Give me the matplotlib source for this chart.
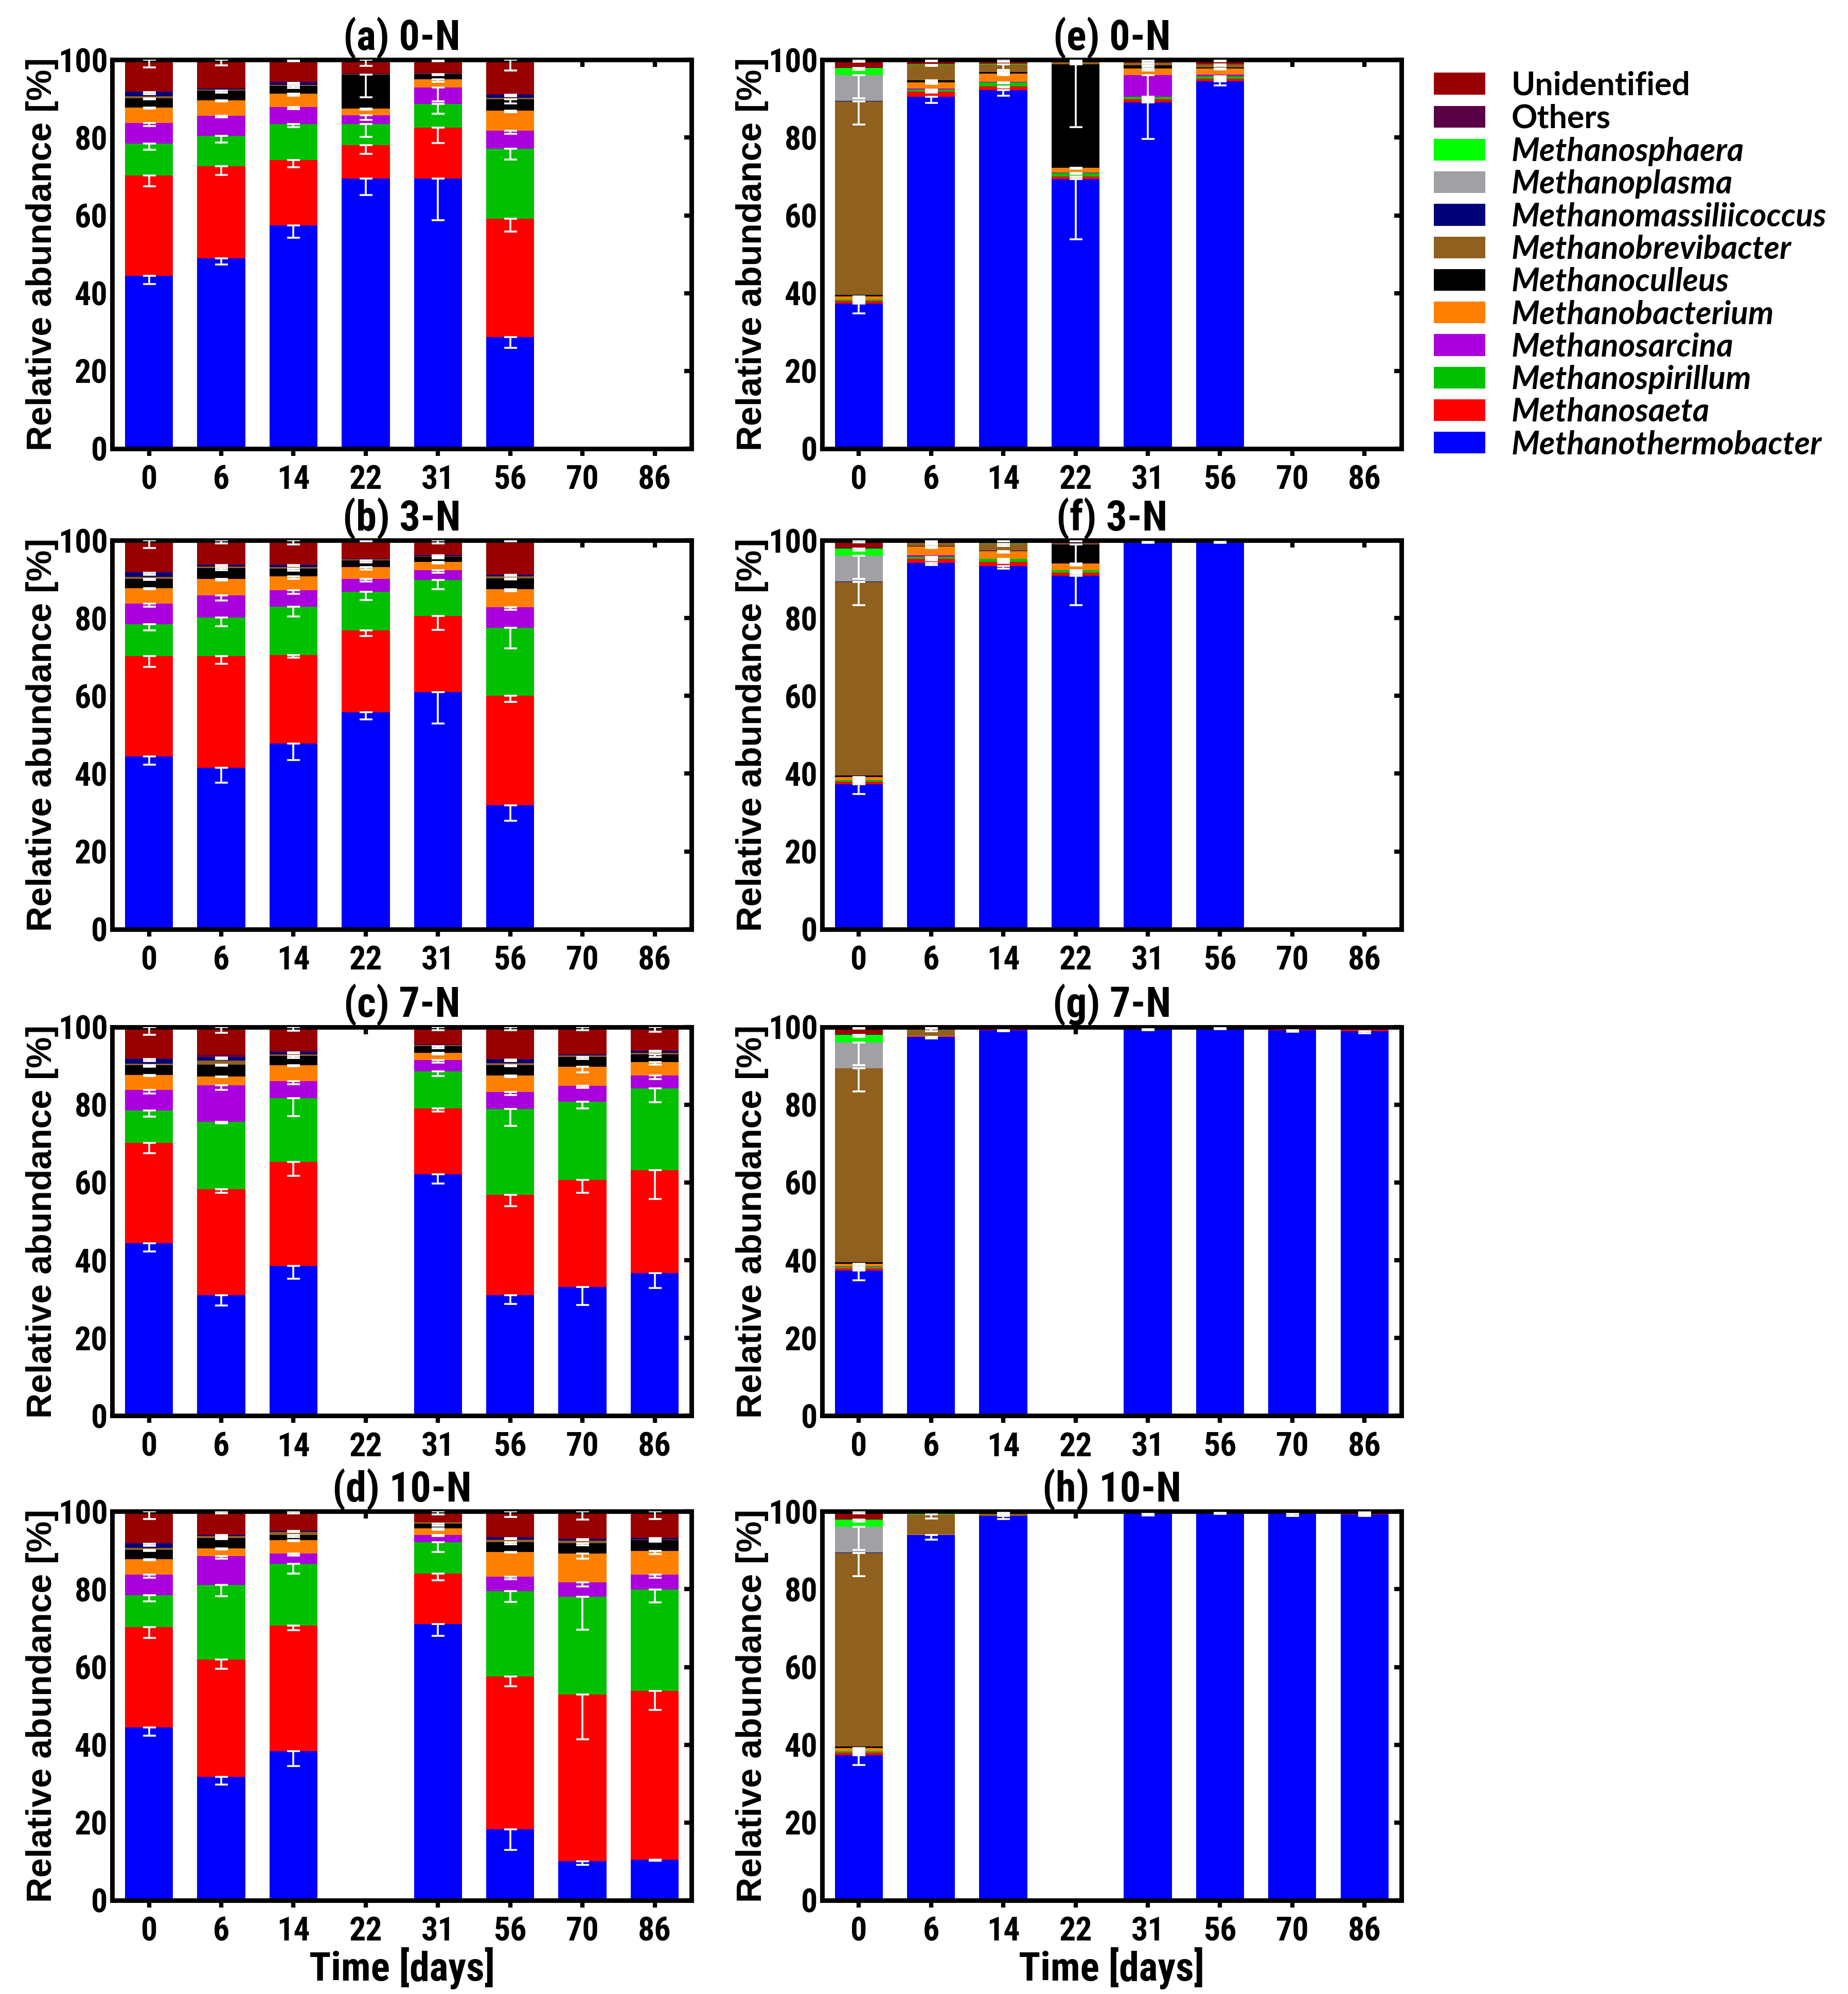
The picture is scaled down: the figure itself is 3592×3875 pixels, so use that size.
import matplotlib
matplotlib.use("Agg")
import matplotlib.pyplot as plt
from matplotlib import font_manager as fm
from matplotlib.patches import Patch

days = ['0', '6', '14', '22', '31', '56', '70', '86']

# bottom -> top stacking order
genera = ['Methanothermobacter', 'Methanosaeta', 'Methanospirillum', 'Methanosarcina',
          'Methanobacterium', 'Methanoculleus', 'Methanobrevibacter', 'Methanomassiliicoccus',
          'Methanoplasma', 'Methanosphaera', 'Others', 'Unidentified']
colors = ['#0000FF', '#FF0000', '#00C000', '#AA00DD', '#FF8000', '#000000',
          '#90601E', '#000078', '#A0A0A5', '#00FF00', '#5A0046', '#990000']

# inoculum (day 0), left and right column
inoc_left = [44.4, 25.8, 8.3, 5.3, 3.9, 2.4, 0.5, 1.1, 0, 0, 0.2, 8.1]
inoc_left_err = [2.1, 2.7, 1.6, 0.9, 0.3, 0.3, 0, 0.5, 0, 0, 0, 2.0]
inoc_right = [37.3, 0.6, 0.4, 0.1, 0.7, 0.4, 49.8, 0.1, 6.6, 1.9, 0.2, 1.9]
inoc_right_err = [2.5, 0.3, 0.2, 0, 0.3, 0, 5.9, 0, 5.9, 0.5, 0, 0.5]

vals_a = [inoc_left,
          [49.0, 23.7, 7.7, 5.2, 4.0, 2.5, 0.3, 0.2, 0, 0, 0, 7.4],
          [57.4, 16.8, 9.3, 4.4, 3.4, 2.0, 0.3, 0.5, 0, 0, 0.4, 5.5],
          [69.4, 8.7, 5.4, 2.3, 1.7, 8.7, 0.1, 0.1, 0, 0, 0.1, 3.5],
          [69.4, 13.2, 6.0, 4.3, 2.1, 1.3, 0.1, 0.2, 0, 0, 0, 3.4],
          [28.7, 30.4, 18.0, 4.7, 5.1, 2.9, 0.4, 0.9, 0, 0, 0.1, 8.8],
          None, None]
err_a = [inoc_left_err,
         [1.7, 2.3, 1.7, 0.4, 0.3, 0.5, 0, 0, 0, 0, 0, 1.4],
         [3.2, 1.8, 0.8, 0.6, 0.5, 0.5, 0, 0.3, 0, 0, 0, 0.3],
         [4.2, 2.3, 3.3, 1.2, 0.3, 5.8, 0, 0, 0, 0, 0, 1.6],
         [10.6, 4.0, 2.4, 3.6, 0.6, 0.2, 0, 0, 0, 0, 0, 0.3],
         [2.8, 3.3, 2.7, 0.8, 0.4, 1.0, 0, 0.5, 0, 0, 0, 2.7],
         None, None]

vals_b = [inoc_left,
          [41.5, 28.8, 9.9, 5.6, 4.3, 2.8, 0.4, 0.4, 0, 0, 0.1, 6.2],
          [47.7, 22.8, 12.4, 4.3, 3.5, 2.1, 0.4, 0.5, 0, 0, 0.1, 6.2],
          [55.8, 21.0, 10.0, 3.3, 3.0, 1.7, 0.3, 0.1, 0, 0, 0, 4.8],
          [61.0, 19.6, 9.2, 2.6, 2.1, 1.3, 0.1, 0.3, 0, 0, 0, 3.8],
          [31.9, 28.1, 17.5, 5.3, 4.6, 2.8, 0.6, 0.4, 0, 0, 0, 8.8],
          None, None]
err_b = [inoc_left_err,
         [3.8, 2.1, 2.3, 1.3, 0.4, 0.6, 0, 0.3, 0, 0, 0, 0.8],
         [4.2, 0.6, 2.5, 1.0, 0.6, 0.6, 0, 0.3, 0, 0, 0, 1.1],
         [1.9, 1.4, 2.2, 0.7, 0.6, 0.5, 0, 0, 0, 0, 0, 0.3],
         [8.1, 3.6, 2.3, 0.7, 0.5, 0.4, 0, 0.2, 0, 0, 0, 0.8],
         [4.0, 1.5, 5.3, 0.7, 0.5, 0.2, 0, 0.3, 0, 0, 0, 0.2],
         None, None]

vals_c = [inoc_left,
          [31.0, 27.2, 17.4, 9.4, 2.3, 3.0, 1.0, 0.9, 0, 0, 0.6, 7.2],
          [38.6, 26.7, 16.4, 4.3, 4.2, 2.3, 0.4, 0.6, 0, 0, 0.3, 6.2],
          None,
          [62.1, 17.0, 9.5, 2.9, 1.8, 1.7, 0.3, 0.2, 0, 0, 0, 4.5],
          [31.0, 25.8, 22.1, 4.4, 4.2, 2.7, 0.5, 0.9, 0, 0, 0.2, 8.2],
          [33.1, 27.6, 20.0, 4.1, 5.0, 2.5, 0.4, 0.3, 0, 0, 0, 7.0],
          [36.7, 26.5, 21.0, 3.3, 3.5, 2.0, 0.3, 0.6, 0, 0, 0, 6.1]]
err_c = [inoc_left_err,
         [2.7, 0.9, 0.4, 1.2, 0.2, 0.3, 0, 0.4, 0, 0, 0, 1.5],
         [3.4, 3.6, 4.6, 0.8, 0.3, 0.5, 0, 0.3, 0, 0, 0, 1.0],
         None,
         [2.4, 0.8, 1.2, 0.7, 0.4, 0.5, 0, 0, 0, 0, 0, 0.8],
         [2.2, 2.9, 4.4, 0.8, 0.4, 0.3, 0, 0.4, 0, 0, 0, 0.8],
         [4.6, 3.3, 1.7, 0.4, 1.5, 0.6, 0, 0, 0, 0, 0, 0.8],
         [3.8, 7.5, 3.6, 0.9, 0.7, 0.7, 0, 0.3, 0, 0, 0, 1.2]]

vals_d = [inoc_left,
          [31.8, 30.1, 19.2, 7.4, 2.0, 2.7, 0.5, 0.2, 0, 0, 0.1, 6.0],
          [38.3, 32.3, 15.9, 2.7, 3.4, 1.4, 0.7, 0.3, 0, 0, 0, 5.0],
          None,
          [71.0, 13.0, 8.1, 1.9, 1.7, 1.1, 0.4, 0.1, 0, 0, 0, 2.7],
          [18.3, 39.3, 21.9, 3.7, 6.4, 2.5, 0.6, 0.5, 0, 0, 0.3, 6.5],
          [10.1, 42.8, 25.2, 3.7, 7.4, 2.6, 0.7, 0.4, 0, 0, 0.1, 7.0],
          [10.4, 43.5, 26.0, 3.8, 6.1, 2.8, 0.2, 0.3, 0, 0, 0, 6.9]]
err_d = [inoc_left_err,
         [2.1, 2.4, 2.9, 0.6, 0.3, 0.3, 0, 0.3, 0, 0, 0, 0.5],
         [3.8, 1.2, 2.5, 0.5, 0.3, 0.6, 0, 0.2, 0, 0, 0, 0.5],
         None,
         [3.0, 1.7, 2.5, 0.3, 0.4, 0.5, 0, 0, 0, 0, 0, 0.8],
         [5.3, 2.6, 2.7, 0.7, 0.2, 0.5, 0, 0.3, 0, 0, 0, 1.4],
         [1.0, 11.5, 8.5, 1.1, 1.4, 0.5, 0, 0.3, 0, 0, 0, 2.1],
         [0.2, 5.0, 3.3, 0.7, 0.8, 0.4, 0, 0.2, 0, 0, 0, 1.9]]

vals_e = [inoc_right,
          [90.5, 1.3, 0.5, 0.3, 1.6, 0.6, 3.9, 0, 0, 0.2, 0, 1.1],
          [92.2, 1.0, 1.0, 0.1, 2.1, 0.5, 2.0, 0, 0, 0.1, 0, 1.0],
          [69.3, 0.7, 0.9, 0.1, 1.3, 26.6, 0.5, 0, 0, 0, 0, 0.6],
          [89.0, 0.8, 0.7, 5.6, 1.7, 0.8, 0.7, 0, 0, 0, 0, 0.7],
          [94.5, 0.7, 0.6, 0.4, 1.6, 0.2, 0.9, 0, 0, 0, 0, 1.1],
          None, None]
err_e = [inoc_right_err,
         [1.6, 0.2, 0.3, 0, 0.4, 0.3, 0.3, 0, 0, 0, 0, 0.3],
         [1.4, 0.3, 0.3, 0, 0.4, 0.3, 1.5, 0, 0, 0, 0, 0.5],
         [15.5, 0.2, 0.3, 0, 0.3, 16.2, 0.2, 0, 0, 0, 0, 0.2],
         [9.3, 0.3, 0.3, 5.6, 0.5, 0.3, 0.2, 0, 0, 0, 0, 0.2],
         [1.1, 0.3, 0.3, 0, 0.3, 0, 0.4, 0, 0, 0, 0, 0.3],
         None, None]

vals_f = [inoc_right,
          [94.2, 1.0, 0.6, 0.4, 2.2, 0.2, 0.7, 0, 0, 0, 0, 0.7],
          [93.4, 1.1, 0.7, 0.1, 1.9, 0.2, 1.7, 0, 0, 0.1, 0, 0.8],
          [90.9, 0.8, 0.6, 0, 1.7, 4.9, 0.3, 0, 0, 0, 0.3, 0.5],
          [99.6, 0.1, 0, 0, 0.1, 0, 0.1, 0, 0, 0, 0, 0.1],
          [99.6, 0.1, 0, 0, 0.1, 0, 0.1, 0, 0, 0, 0, 0.1],
          None, None]
err_f = [inoc_right_err,
         [0.5, 0.3, 0.3, 0, 0.4, 0, 0.3, 0, 0, 0, 0, 0.2],
         [0.6, 0.3, 0.3, 0, 0.4, 0, 0.5, 0, 0, 0, 0, 0.3],
         [7.6, 0.3, 0.2, 0, 0.3, 5.4, 0, 0, 0, 0, 0, 0.2],
         [0.3, 0, 0, 0, 0, 0, 0, 0, 0, 0, 0, 0],
         [0.3, 0, 0, 0, 0, 0, 0, 0, 0, 0, 0, 0],
         None, None]

vals_g = [inoc_right,
          [97.5, 0.1, 0, 0, 0.1, 0, 1.8, 0, 0, 0, 0, 0.5],
          [99.2, 0.1, 0, 0, 0, 0, 0.5, 0, 0, 0, 0, 0.2],
          None,
          [99.4, 0.1, 0, 0, 0, 0, 0.4, 0, 0, 0, 0, 0.1],
          [99.7, 0, 0, 0, 0, 0, 0.2, 0, 0, 0, 0, 0.1],
          [99.2, 0.3, 0, 0, 0, 0, 0.2, 0, 0, 0, 0, 0.3],
          [98.9, 0.4, 0, 0, 0, 0, 0.4, 0, 0, 0, 0, 0.3]]
err_g = [inoc_right_err,
         [0.5, 0, 0, 0, 0, 0, 0.6, 0, 0, 0, 0, 0.2],
         [0.3, 0, 0, 0, 0, 0, 0, 0, 0, 0, 0, 0],
         None,
         [0.3, 0, 0, 0, 0, 0, 0, 0, 0, 0, 0, 0],
         [0.3, 0, 0, 0, 0, 0, 0, 0, 0, 0, 0, 0],
         [0.5, 0, 0, 0, 0, 0, 0, 0, 0, 0, 0, 0],
         [0.6, 0, 0, 0, 0, 0, 0, 0, 0, 0, 0, 0]]

vals_h = [inoc_right,
          [93.9, 0.1, 0, 0, 0.1, 0, 5.2, 0, 0, 0.2, 0, 0.5],
          [98.8, 0, 0, 0, 0, 0, 0.9, 0, 0, 0, 0, 0.3],
          None,
          [99.4, 0.2, 0, 0, 0, 0, 0.1, 0, 0, 0, 0, 0.3],
          [99.7, 0.1, 0, 0, 0, 0, 0, 0, 0, 0, 0, 0.2],
          [99.4, 0.2, 0.2, 0, 0, 0, 0, 0, 0, 0, 0, 0.2],
          [99.3, 0.5, 0, 0, 0, 0, 0, 0, 0, 0, 0, 0.2]]
err_h = [inoc_right_err,
         [1.2, 0, 0, 0, 0, 0, 1.1, 0, 0, 0, 0, 0],
         [0.8, 0, 0, 0, 0, 0, 0.5, 0, 0, 0, 0, 0],
         None,
         [0.4, 0, 0, 0, 0, 0, 0, 0, 0, 0, 0, 0],
         [0.3, 0, 0, 0, 0, 0, 0, 0, 0, 0, 0, 0],
         [0.6, 0, 0, 0, 0, 0, 0, 0, 0, 0, 0, 0],
         [0.5, 0.3, 0, 0, 0, 0, 0, 0, 0, 0, 0, 0]]

panels = [('(a) 0-N', vals_a, err_a), ('(b) 3-N', vals_b, err_b),
          ('(c) 7-N', vals_c, err_c), ('(d) 10-N', vals_d, err_d),
          ('(e) 0-N', vals_e, err_e), ('(f) 3-N', vals_f, err_f),
          ('(g) 7-N', vals_g, err_g), ('(h) 10-N', vals_h, err_h)]


# pick a narrow bold face for ticks / titles (Arial Narrow look-alike)
def narrow_font():
    entries = fm.fontManager.ttflist
    names = {f.name for f in entries}
    for name in ['Liberation Sans Narrow', 'Arial Narrow', 'Roboto Condensed',
                 'Open Sans Condensed', 'Noto Sans Condensed', 'DejaVu Sans Condensed']:
        if name in names:
            return {'family': name, 'stretch': 'normal'}
    for name in ['Noto Sans', 'Open Sans', 'Roboto', 'DejaVu Sans']:
        for f in entries:
            if f.name == name and 'condensed' in str(f.stretch):
                return {'family': name, 'stretch': 'condensed'}
    return {'family': 'DejaVu Sans', 'stretch': 'normal'}


NARROW = narrow_font()

col_left = [0.0607, 0.4448]
col_width = 0.3135
row_bottom = [0.775, 0.534, 0.290, 0.047]
row_height = 0.195

fig = plt.figure(figsize=(17.96, 19.375), dpi=200)

for n, (title, vals, errs) in enumerate(panels):
    col, row = divmod(n, 4)
    ax = fig.add_axes([col_left[col], row_bottom[row], col_width, row_height])
    x = list(range(len(days)))
    bottoms = [0.0] * len(days)
    tops = []
    for k in range(len(genera)):
        h = [r[k] if r is not None else 0 for r in vals]
        ax.bar(x, h, bottom=bottoms, width=0.665, color=colors[k], linewidth=0, zorder=2)
        tops.append([b + v for b, v in zip(bottoms, h)])
        bottoms = tops[-1]
    # white error bars hanging from the top of each segment
    for i in x:
        if vals[i] is None:
            continue
        for k in range(len(genera)):
            e = errs[i][k]
            if e > 0 and vals[i][k] > 0:
                ax.errorbar(i, tops[k][i], yerr=[[e], [0]], fmt='none', ecolor='white',
                            elinewidth=1.3, capsize=4.5, capthick=1.3, zorder=3)

    ax.set_xlim(-0.51, 7.51)
    ax.set_ylim(0, 100)
    ax.set_xticks(x)
    ax.set_xticklabels(days)
    ax.set_yticks([0, 20, 40, 60, 80, 100])
    for s in ax.spines.values():
        s.set_linewidth(3.2)
    ax.tick_params(axis='x', direction='out', length=5, width=3, pad=6)
    ax.tick_params(axis='y', direction='out', length=0, width=3, pad=3)
    for lab in ax.get_xticklabels() + ax.get_yticklabels():
        lab.set_family(NARROW['family'])
        lab.set_stretch(NARROW['stretch'])
        lab.set_fontweight('bold')
        lab.set_fontsize(23)
    top = ax.secondary_xaxis('top')
    top.set_xticks(x)
    top.tick_params(direction='in', length=5, width=3, labeltop=False)
    top.spines['top'].set_visible(False)
    right = ax.secondary_yaxis('right')
    right.set_yticks([0, 20, 40, 60, 80, 100])
    right.tick_params(direction='in', length=5, width=3, labelright=False)
    right.spines['right'].set_visible(False)

    ax.set_title(title, family=NARROW['family'], stretch=NARROW['stretch'],
                 fontweight='bold', fontsize=29, pad=7)
    ax.set_ylabel('Relative abundance [%]', family='Liberation Sans', fontweight='bold',
                  fontsize=24.5)
    ax.yaxis.set_label_coords(-0.092, 0.5)
    if row == 3:
        ax.set_xlabel('Time [days]', family=NARROW['family'], stretch=NARROW['stretch'],
                      fontweight='bold', fontsize=28, labelpad=0)

handles = [Patch(facecolor=colors[k], edgecolor='none') for k in reversed(range(len(genera)))]
labels = list(reversed(genera))
leg = fig.legend(handles, labels, loc='upper left', bbox_to_anchor=(0.769, 0.971),
                 frameon=False, prop={'family': 'Lato', 'weight': 'bold', 'size': 22.5},
                 handlelength=1.6, handleheight=0.66, handletextpad=0.8, labelspacing=0.1,
                 borderaxespad=0)
for t in leg.get_texts():
    if t.get_text() not in ('Unidentified', 'Others'):
        t.set_fontstyle('italic')

fig.savefig('out.png', dpi=200)
